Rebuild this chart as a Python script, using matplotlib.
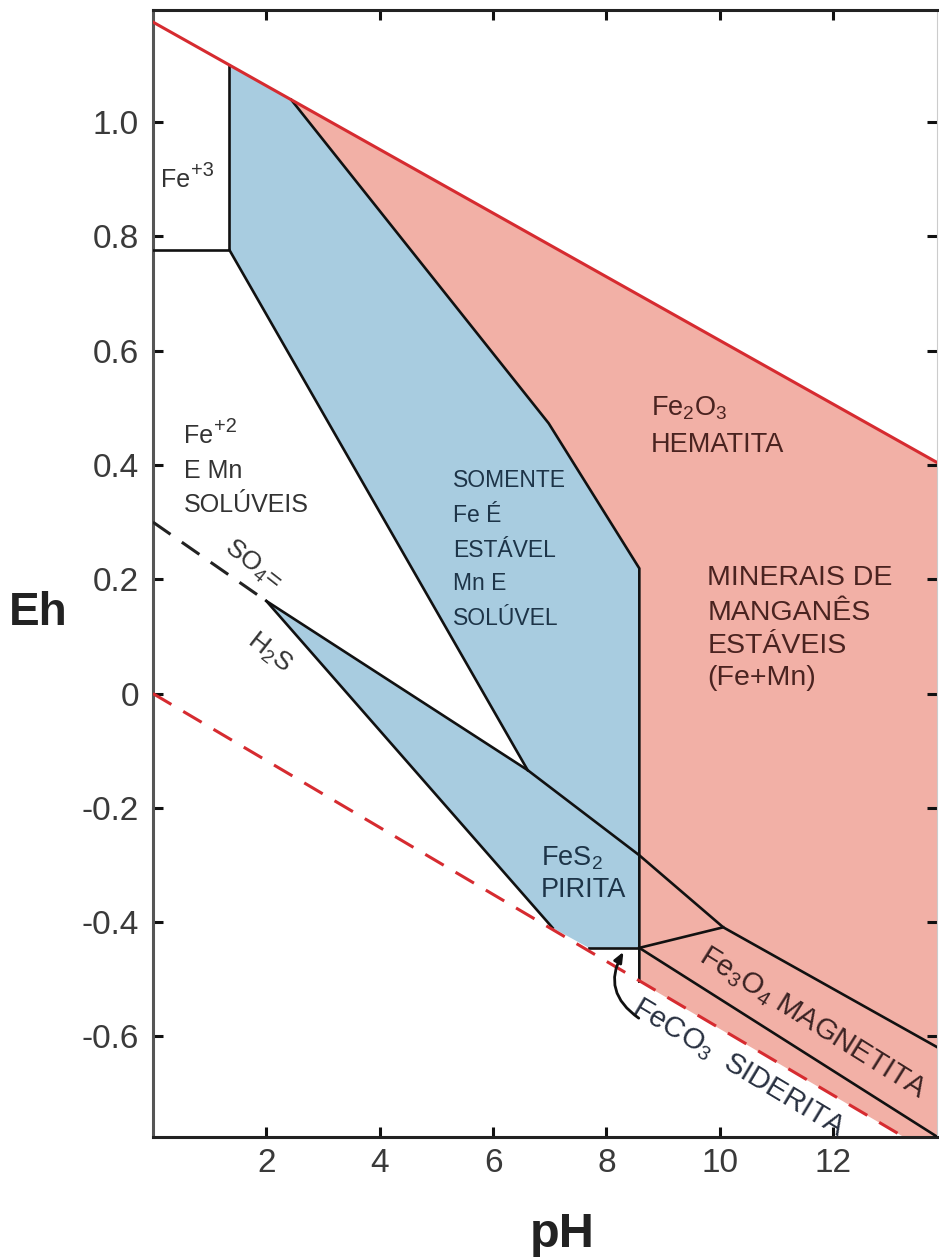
import matplotlib
matplotlib.use("Agg")
import matplotlib.pyplot as plt
from matplotlib import font_manager


def pick_font(names):
    for n in names:
        try:
            font_manager.findfont(n, fallback_to_default=False)
            return n
        except ValueError:
            pass
    return "DejaVu Sans"


BASE = pick_font(["Liberation Sans", "Arial", "DejaVu Sans"])
NARROW = pick_font(["Liberation Sans Narrow", "Liberation Sans", "DejaVu Sans"])

plt.rcParams["font.family"] = [BASE, "DejaVu Sans"]
plt.rcParams["mathtext.default"] = "regular"

# --- boundaries (pH, Eh in volts) ---
o2_ph, o2_eh = [0, 14], [1.175, 0.395]            # H2O / O2
h2_ph, h2_eh = [0, 14], [0.0, -0.82]              # H2 / H2O (dashed)
fe3_ph, fe3_eh = [0, 1.35, 1.35], [0.776, 0.776, 1.10]
fe2_ph, fe2_eh = [1.35, 6.61], [0.776, -0.134]
hem_ph, hem_eh = [2.44, 6.98, 8.58, 8.58], [1.039, 0.473, 0.219, -0.504]
so4_ph, so4_eh = [0, 2.0], [0.30, 0.162]
pyr_up_ph = [2.0, 6.61, 8.58, 10.06, 14]
pyr_up_eh = [0.162, -0.134, -0.283, -0.409, -0.628]
pyr_lo_ph, pyr_lo_eh = [2.0, 7.05], [0.162, -0.41]
sid_ph, sid_eh = [7.69, 8.58], [-0.445, -0.445]
mag_a_ph, mag_a_eh = [8.58, 10.06], [-0.445, -0.409]
mag_b_ph, mag_b_eh = [8.58, 14], [-0.445, -0.786]

blue_ph = [1.35, 2.44, 6.98, 8.58, 8.58, 7.69, 7.05, 2.0, 6.61, 1.35]
blue_eh = [1.10, 1.039, 0.473, 0.219, -0.445, -0.445, -0.41, 0.162, -0.134, 0.776]
pink_ph = [2.44, 14, 14, 8.58, 8.58, 6.98]
pink_eh = [1.039, 0.395, -0.82, -0.504, 0.219, 0.473]

xticks = [2, 4, 6, 8, 10, 12]
yticks = [1.0, 0.8, 0.6, 0.4, 0.2, 0, -0.2, -0.4, -0.6]
ylabels = ["1.0", "0.8", "0.6", "0.4", "0.2", "0", "-0.2", "-0.4", "-0.6"]

fig = plt.figure(figsize=(9.39, 12.6), dpi=100)
ax = fig.add_axes([0.1629, 0.0976, 0.8349, 0.8944])

ax.fill(blue_ph, blue_eh, color="#a8cce0", lw=0, zorder=1)
ax.fill(pink_ph, pink_eh, color="#f2b0a6", lw=0, zorder=1)

red = "#d62b30"
ax.plot(o2_ph, o2_eh, color=red, lw=2.2, zorder=4)
ax.plot(h2_ph, h2_eh, color=red, lw=2.2, dashes=(7, 4.5), zorder=4)
ax.plot(so4_ph, so4_eh, color="#222222", lw=2.2, dashes=(7, 4.5), zorder=3)

k = dict(color="#111111", lw=1.9, zorder=3, solid_joinstyle="miter")
for xs, ys in [(fe3_ph, fe3_eh), (fe2_ph, fe2_eh), (hem_ph, hem_eh),
               (pyr_up_ph, pyr_up_eh), (pyr_lo_ph, pyr_lo_eh), (sid_ph, sid_eh),
               (mag_a_ph, mag_a_eh), (mag_b_ph, mag_b_eh)]:
    ax.plot(xs, ys, **k)

ax.set_xlim(0, 13.83)
ax.set_ylim(-0.776, 1.196)
ax.set_xticks(xticks)
ax.set_xticklabels([str(t) for t in xticks])
ax.set_yticks(yticks)
ax.set_yticklabels(ylabels)
ax.tick_params(direction="in", length=7, width=2.2, top=True, right=True,
               labelsize=24, labelcolor="#3a3a3a", color="#111111")
ax.tick_params(axis="y", pad=10)
ax.tick_params(axis="x", pad=8)
for s in ["left", "bottom", "top"]:
    ax.spines[s].set_linewidth(2.2)
ax.spines["left"].set_color("#555555")
ax.spines["bottom"].set_color("#222222")
ax.spines["top"].set_color("#222222")
ax.spines["right"].set_color("#cccccc")

gray, navy, brown = "#333333", "#1d3448", "#4a2320"


def lines(x, ys, texts, size, color):
    for y, t in zip(ys, texts):
        ax.text(x, y, t, fontsize=size, color=color, ha="left", va="baseline", zorder=5)


def sup(x, y, base, up, size, color):
    t = ax.text(x, y, base, fontsize=size, color=color, ha="left", va="baseline", zorder=5)
    ax.annotate(up, xy=(x, y), xytext=(size * 1.2, size * 0.45),
                textcoords="offset points", fontsize=size * 0.8, color=color,
                ha="left", va="baseline", zorder=5)
    return t


sup(0.15, 0.886, "Fe", "+3", 18, gray)
sup(0.55, 0.438, "Fe", "+2", 18, gray)
lines(0.55, [0.377, 0.317], ["E Mn", "SOLÚVEIS"], 18, gray)
lines(5.29, [0.361, 0.300, 0.239, 0.181, 0.120],
      ["SOMENTE", "Fe É", "ESTÁVEL", "Mn E", "SOLÚVEL"], 16.5, navy)
lines(8.78, [0.487, 0.422], ["Fe$_2$O$_3$", "HEMATITA"], 19.5, brown)
lines(9.78, [0.190, 0.128, 0.071, 0.015],
      ["MINERAIS DE", "MANGANÊS", "ESTÁVEIS", "(Fe+Mn)"], 20.5, brown)
lines(6.84, [-0.300, -0.356], ["FeS$_2$", "PIRITA"], 19.5, navy)

ax.text(1.77, 0.226, "SO$_4$=", fontsize=19, color=gray, rotation=-38,
        ha="center", va="center", rotation_mode="anchor", zorder=5)
ax.text(2.05, 0.072, "H$_2$S", fontsize=19, color=gray, rotation=-38,
        ha="center", va="center", rotation_mode="anchor", zorder=5)
ax.text(9.61, -0.466, "Fe$_3$O$_4$ MAGNETITA", fontsize=21, color="#3a2222",
        rotation=-32, ha="left", va="baseline", rotation_mode="anchor", zorder=5)
ax.text(8.43, -0.557, "FeCO$_3$  SIDERITA", fontsize=21, color="#283040",
        rotation=-31, ha="left", va="baseline", rotation_mode="anchor", zorder=5)

ax.annotate("", xy=(8.30, -0.452), xytext=(8.57, -0.568),
            arrowprops=dict(arrowstyle="-|>,head_length=0.6,head_width=0.25",
                            connectionstyle="arc3,rad=-0.45", color="#111111",
                            lw=2, shrinkA=0, shrinkB=0), zorder=6)

fig.text(38 / 939, 1 - 613 / 1260, "Eh", fontsize=33, fontweight="bold",
         family=[NARROW, "DejaVu Sans"], ha="center", va="center", color="#222222")
fig.text(562 / 939, 1 - 1247 / 1260, "pH", fontsize=35, fontweight="bold",
         family=[NARROW, "DejaVu Sans"], ha="center", va="baseline", color="#222222")

fig.savefig("out.png", dpi=100)
